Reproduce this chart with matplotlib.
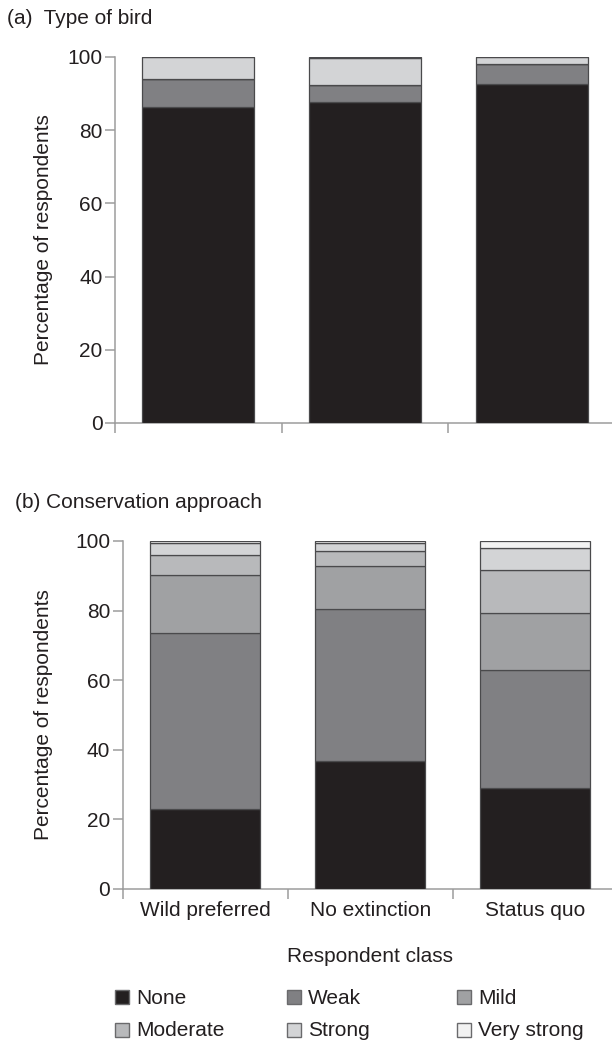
import matplotlib
matplotlib.use("Agg")
import matplotlib.pyplot as plt
from matplotlib.patches import Rectangle
from matplotlib.ticker import FixedLocator, NullFormatter
import numpy as np

plt.rcParams['font.family'] = ['Liberation Sans', 'DejaVu Sans']

# respondent classes and rating levels
classes = ['Wild preferred', 'No extinction', 'Status quo']
levels = ['None', 'Weak', 'Mild', 'Moderate', 'Strong', 'Very strong']

# (a) type of bird, percent per level for each class
bird_none = [86.4, 87.6, 92.6]
bird_weak = [7.5, 4.7, 5.5]
bird_mild = [0.0, 0.0, 0.0]
bird_moderate = [0.0, 0.0, 0.0]
bird_strong = [6.1, 7.3, 1.9]
bird_very_strong = [0.0, 0.4, 0.0]

# (b) conservation approach
cons_none = [23.0, 36.8, 29.1]
cons_weak = [50.5, 43.7, 33.8]
cons_mild = [16.7, 12.3, 16.3]
cons_moderate = [5.8, 4.3, 12.5]
cons_strong = [3.3, 2.2, 6.2]
cons_very_strong = [0.7, 0.7, 2.1]

yticks = [0, 20, 40, 60, 80, 100]

colors = ['#231f20', '#808083', '#a0a1a3', '#b8b9bb', '#d3d4d6', '#f2f2f2']
text_col = '#231f20'
spine_col = '#9c9c9c'
FS = 15

W, H = 612, 1044
fig = plt.figure(figsize=(W / 100, H / 100), dpi=100)


def axes_px(left, top, right, bottom):
    """Axes from pixel box (origin top-left)."""
    return fig.add_axes([left / W, 1 - bottom / H, (right - left) / W, (bottom - top) / H])


def draw_panel(ax, series, show_labels):
    x = np.arange(len(classes))
    base = np.zeros(len(classes))
    for vals, col in zip(series, colors):
        vals = np.array(vals)
        ax.bar(x, vals, width=0.67, bottom=base, color=col,
               edgecolor='#4a4a4c', linewidth=0.9, zorder=3)
        base += vals
    ax.set_xlim(-0.5, 2.5)
    ax.set_ylim(0, 100)
    ax.set_yticks(yticks)
    ax.tick_params(axis='y', direction='out', length=7, width=1.1,
                   color=spine_col, labelsize=FS, labelcolor=text_col, pad=2)
    ax.xaxis.set_major_locator(FixedLocator(x))
    ax.xaxis.set_minor_locator(FixedLocator([-0.5, 0.5, 1.5, 2.5]))
    ax.xaxis.set_minor_formatter(NullFormatter())
    ax.tick_params(axis='x', which='major', length=0, labelsize=FS,
                   labelcolor=text_col, pad=9)
    ax.tick_params(axis='x', which='minor', direction='out', length=7,
                   width=1.1, color=spine_col)
    if show_labels:
        ax.set_xticklabels(classes)
    else:
        ax.set_xticklabels([])
    for side in ['top', 'right']:
        ax.spines[side].set_visible(False)
    for side in ['left', 'bottom']:
        ax.spines[side].set_color(spine_col)
        ax.spines[side].set_linewidth(1.1)
    ax.set_ylabel('Percentage of respondents', fontsize=FS, color=text_col)


ax1 = axes_px(115, 57, 615, 423)
draw_panel(ax1, [bird_none, bird_weak, bird_mild, bird_moderate,
                 bird_strong, bird_very_strong], False)
ax1.yaxis.set_label_coords(-0.124, 0.5)

ax2 = axes_px(122.7, 541, 617.7, 889)
draw_panel(ax2, [cons_none, cons_weak, cons_mild, cons_moderate,
                 cons_strong, cons_very_strong], True)
ax2.yaxis.set_label_coords(-0.141, 0.5)
ax2.set_xlabel('Respondent class', fontsize=FS, color=text_col)
ax2.xaxis.set_label_coords(0.5, -(957 - 889) / 348)
ax2.xaxis.label.set_va('center')

fig.text(7 / W, 1 - 19 / H, '(a)  Type of bird', fontsize=FS, color=text_col,
         ha='left', va='center')
fig.text(15 / W, 1 - 503 / H, '(b) Conservation approach', fontsize=FS,
         color=text_col, ha='left', va='center')

# legend drawn by hand: 3 columns x 2 rows
col_x = [115, 287, 457]
row_y = [997, 1030]
sq = 14
for i, (lab, col) in enumerate(zip(levels, colors)):
    cx = col_x[i % 3]
    cy = row_y[i // 3]
    fig.patches.append(Rectangle(((cx) / W, 1 - (cy + sq / 2) / H), sq / W, sq / H,
                                 transform=fig.transFigure, facecolor=col,
                                 edgecolor='#6a6a6c', linewidth=1.0))
    fig.text((cx + sq + 7) / W, 1 - (cy + 1) / H, lab, fontsize=FS,
             color=text_col, ha='left', va='center')

fig.savefig('out.png', dpi=100)
